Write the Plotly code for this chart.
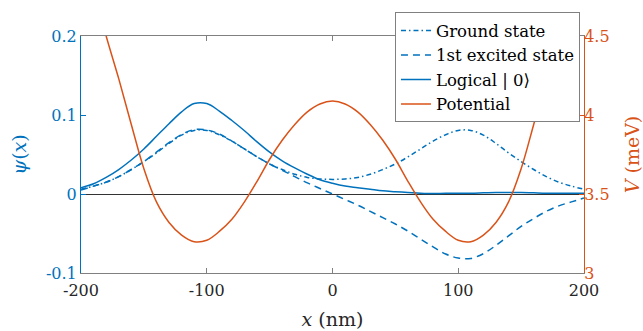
import plotly.graph_objects as go

x_nm = [-200, -190, -180, -170, -160, -150, -140, -130, -120, -110, -100, -90, -80, -70, -60, -50, -40, -30, -20, -10,
        0, 10, 20, 30, 40, 50, 60, 70, 80, 90, 100, 110, 120, 130, 140, 150, 160, 170, 180, 190, 200]

ground = [0.006, 0.010, 0.015, 0.022, 0.031, 0.041, 0.052, 0.064, 0.0745, 0.0805, 0.0805, 0.075, 0.067, 0.057, 0.047,
          0.038, 0.031, 0.025, 0.021, 0.019,
          0.0185, 0.019, 0.021, 0.025, 0.031, 0.038, 0.047, 0.057, 0.067, 0.075, 0.0805, 0.0805, 0.0745, 0.064, 0.052,
          0.041, 0.031, 0.022, 0.015, 0.010, 0.006]

excited = [0.005, 0.010, 0.015, 0.022, 0.031, 0.041, 0.053, 0.065, 0.0755, 0.0815, 0.081, 0.076, 0.067, 0.057, 0.047,
           0.038, 0.030, 0.022, 0.014, 0.007,
           0.0, -0.007, -0.014, -0.022, -0.030, -0.038, -0.047, -0.057, -0.067, -0.076, -0.081, -0.0815, -0.0755,
           -0.065, -0.053, -0.041, -0.031, -0.022, -0.015, -0.010, -0.005]

logical0 = [0.008, 0.013, 0.021, 0.031, 0.043, 0.057, 0.073, 0.089, 0.104, 0.1145, 0.1145, 0.105, 0.093, 0.080, 0.066,
            0.053, 0.042, 0.033, 0.025, 0.018,
            0.0135, 0.010, 0.008, 0.006, 0.004, 0.003, 0.002, 0.001, 0.0005, 0.001, 0.001, 0.001, 0.0015, 0.002, 0.002,
            0.002, 0.0015, 0.001, 0.001, 0.001, 0.001]

potential = [5.10, 4.80, 4.50, 4.23, 3.94, 3.66, 3.45, 3.32, 3.24, 3.198, 3.207, 3.263, 3.34, 3.45, 3.58,
             3.72, 3.84, 3.94, 4.02, 4.07,
             4.088, 4.07, 4.02, 3.94, 3.84, 3.72, 3.58, 3.45, 3.34, 3.263, 3.207, 3.198, 3.24, 3.32, 3.45,
             3.66, 3.94, 4.23, 4.50, 4.80, 5.10]

x_ticks = [-200, -100, 0, 100, 200]
x_ticktext = ["-200", "-100", "0", "100", "200"]
psi_ticks = [-0.1, 0, 0.1, 0.2]
psi_ticktext = ["-0.1", "0", "0.1", "0.2"]
v_ticks = [3, 3.5, 4, 4.5]
v_ticktext = ["3", "3.5", "4", "4.5"]

BLUE = "#0072BD"
ORANGE = "#D95319"
GREY = "#808080"
FONT = "DejaVu Serif"

fig = go.Figure()
fig.add_trace(go.Scatter(x=x_nm, y=ground, mode="lines", name="Ground state",
                         line=dict(color=BLUE, width=1.5, dash="5px,3px,1.5px,3px", shape="spline")))
fig.add_trace(go.Scatter(x=x_nm, y=excited, mode="lines", name="1st excited state",
                         line=dict(color=BLUE, width=1.5, dash="7px,5px", shape="spline")))
fig.add_trace(go.Scatter(x=x_nm, y=logical0, mode="lines", name="Logical | 0⟩",
                         line=dict(color=BLUE, width=1.5, shape="spline")))
fig.add_trace(go.Scatter(x=x_nm, y=potential, mode="lines", name="Potential", yaxis="y2",
                         line=dict(color=ORANGE, width=1.5, shape="spline")))

fig.update_layout(
    width=643, height=331,
    margin=dict(l=81, r=59, t=33, b=58),
    paper_bgcolor="white", plot_bgcolor="white",
    font=dict(family=FONT, size=16, color="#262626"),
    showlegend=True,
    legend=dict(x=0.992, y=1.1, xanchor="right", yanchor="top",
                bgcolor="white", bordercolor=GREY, borderwidth=1,
                font=dict(family=FONT, size=16.5, color="#000000"),
                itemwidth=30, tracegroupgap=0),
    xaxis=dict(range=[-200, 200], tickvals=x_ticks, ticktext=x_ticktext, automargin=False,
               ticklabelstandoff=3,
               showgrid=False, zeroline=False, showline=True, linecolor=GREY, linewidth=1,
               mirror="ticks", ticks="inside", ticklen=5, tickcolor=GREY,
               tickfont=dict(family=FONT, size=16, color="#262626"),
               title=dict(text="<i>x</i> (nm)", font=dict(family=FONT, size=19, color="#262626"), standoff=13)),
    yaxis=dict(range=[-0.1, 0.2], tickvals=psi_ticks, ticktext=psi_ticktext, automargin=False,
               showgrid=False, zeroline=True, zerolinecolor="#333333", zerolinewidth=1.2,
               showline=True, linecolor=BLUE, linewidth=1,
               ticks="inside", ticklen=5, tickcolor=BLUE,
               tickfont=dict(family=FONT, size=16, color=BLUE),
               title=dict(text="<i>ψ</i>(<i>x</i>)", font=dict(family=FONT, size=19, color=BLUE), standoff=14)),
    yaxis2=dict(range=[3, 4.5], tickvals=v_ticks, ticktext=v_ticktext, overlaying="y", side="right",
                automargin=False, ticklabelstandoff=-4,
                showgrid=False, zeroline=False, showline=True, linecolor=ORANGE, linewidth=1,
                ticks="inside", ticklen=5, tickcolor=ORANGE,
                tickfont=dict(family=FONT, size=16, color=ORANGE),
                title=dict(text="<i>V</i> (meV)", font=dict(family=FONT, size=19, color=ORANGE), standoff=18)),
)

fig.write_html("out.html", config={"displayModeBar": False},
               post_script="document.body.style.margin='0';")
